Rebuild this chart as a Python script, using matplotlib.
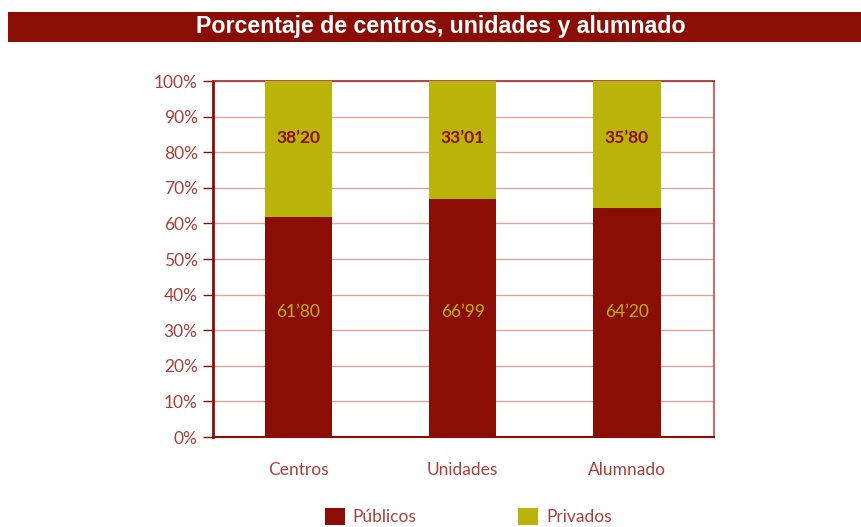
import matplotlib
matplotlib.use("Agg")
import matplotlib.pyplot as plt
from matplotlib.patches import Rectangle

categories = ["Centros", "Unidades", "Alumnado"]
publicos = [61.80, 66.99, 64.20]
privados = [38.20, 33.01, 35.80]
pub_labels = ["61’80", "66’99", "64’20"]
priv_labels = ["38’20", "33’01", "35’80"]
yticks = [0, 10, 20, 30, 40, 50, 60, 70, 80, 90, 100]
ytick_labels = [f"{v}%" for v in yticks]

RED = "#8B0E04"
OLIVE = "#B9B30A"
TXT = "#A8403A"
GRID = "#DDA59E"

plt.rcParams['font.family'] = ['Lato', 'DejaVu Sans']

fig = plt.figure(figsize=(8.61, 5.27), dpi=100)

# Title bar
fig.patches.append(Rectangle((8/861, 1 - 42/527), (861-8)/861, 30/527,
                             transform=fig.transFigure, facecolor=RED, edgecolor='none'))
fig.text(441/861, 1 - 27/527, "Porcentaje de centros, unidades y alumnado",
         ha='center', va='center', color='white', fontsize=16.7, fontweight='bold',
         family=['Liberation Sans', 'DejaVu Sans'])

ax = fig.add_axes([213/861, 1 - 437/527, (714-213)/861, (437-81)/527])
x = list(range(len(categories)))
w = 0.41
ax.bar(x, publicos, width=w, color=RED, zorder=3)
ax.bar(x, privados, width=w, bottom=publicos, color=OLIVE, zorder=3)

for i in x:
    ax.text(i, 35, pub_labels[i], ha='center', va='center',
            color=OLIVE, fontsize=12.5, zorder=4)
    ax.text(i, 84, priv_labels[i], ha='center', va='center',
            color=RED, fontsize=12.5, fontweight='bold', zorder=4)

ax.set_xlim(-0.52, 2.53)
ax.set_ylim(0, 100)
ax.set_yticks(yticks)
ax.set_yticklabels(ytick_labels, color=TXT, fontsize=12.5)
ax.set_xticks(x)
ax.set_xticklabels(categories, color=TXT, fontsize=12.5)
ax.tick_params(axis='x', length=0, pad=18)
ax.tick_params(axis='y', length=7, width=1, color=RED, pad=4, direction='out')
ax.yaxis.grid(True, color=GRID, linewidth=1, zorder=0)
ax.set_axisbelow(True)

ax.spines['left'].set_color(RED)
ax.spines['left'].set_linewidth(2)
ax.spines['bottom'].set_color(RED)
ax.spines['bottom'].set_linewidth(1.5)
ax.spines['top'].set_color("#A0302A")
ax.spines['top'].set_linewidth(1.2)
ax.spines['right'].set_color("#C07068")
ax.spines['right'].set_linewidth(1.5)

handles = [Rectangle((0, 0), 1, 1, facecolor=RED), Rectangle((0, 0), 1, 1, facecolor=OLIVE)]
leg = fig.legend(handles, ["Públicos", "Privados"], loc='upper left',
                 bbox_to_anchor=(325/861, 1 - 508/527), ncol=2, frameon=False,
                 fontsize=12.5, handlelength=1.15, handleheight=1.15, columnspacing=5.85,
                 handletextpad=0.45, borderpad=0, borderaxespad=0)
for t in leg.get_texts():
    t.set_color(TXT)

fig.savefig("out.png", dpi=100)
